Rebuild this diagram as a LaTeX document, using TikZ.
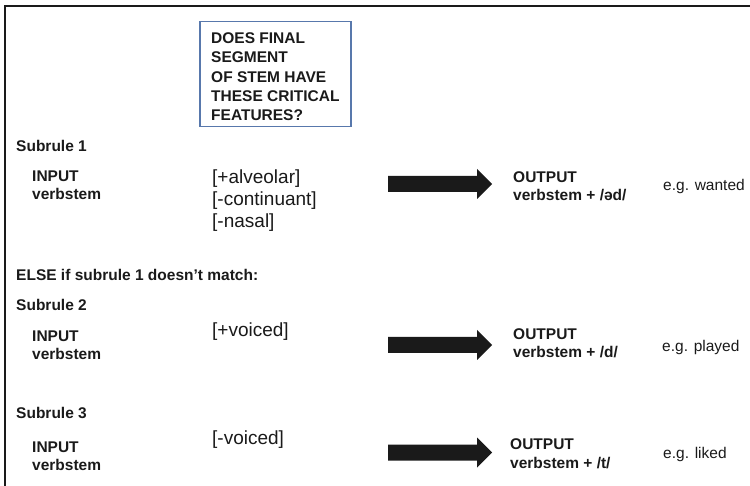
\documentclass[tikz,border=0pt]{standalone}
\usepackage{fontspec}
\setmainfont{Liberation Sans}
\usepackage{xcolor}
\definecolor{boxblue}{RGB}{88,120,172}
\definecolor{ink}{RGB}{26,26,26}

\begin{document}
\begin{tikzpicture}[x=1pt,y=-1pt,
  lbl/.style={anchor=base west,inner sep=0pt,font=\fontsize{15.5}{19.35}\selectfont\bfseries,text=ink},
  feat/.style={anchor=base west,inner sep=0pt,font=\fontsize{19}{22}\selectfont,text=ink},
  eg/.style={anchor=base west,inner sep=0pt,font=\fontsize{15.5}{19}\selectfont,text=ink},
  arr/.style={fill=ink}]
  \useasboundingbox (0,0) rectangle (750,486);
  % frame (top and left only)
  \draw[ink,line width=2.5pt] (5,486) -- (5,6) -- (750,6);
  % question box
  \node[draw=boxblue,line width=1.5pt,anchor=north west,minimum width=151pt,minimum height=105pt,inner sep=0pt] (qbox) at (199,21) {};
  \node[lbl,anchor=north west,align=left] (qtext) at (211,32.3) {DOES FINAL\\SEGMENT\\OF STEM HAVE\\THESE CRITICAL\\FEATURES?};
  % subrule 1
  \node[lbl] (s1) at (16,151.5) {Subrule 1};
  \node[lbl] (in1) at (32,181.5) {INPUT};
  \node[lbl] (vs1) at (32,200) {verbstem};
  \node[feat] (f1a) at (212,183.4) {[+alveolar]};
  \node[feat] (f1b) at (212,205.4) {[-continuant]};
  \node[feat] (f1c) at (212,227.4) {[-nasal]};
  \node[lbl] (out1) at (513,182.3) {OUTPUT};
  \node[lbl] (res1) at (513,200.5) {verbstem + /əd/};
  \node[eg] (eg1) at (663,191) {e.g. wanted};
  % else
  \node[lbl] (els) at (16,280.7) {ELSE if subrule 1 doesn’t match:};
  % subrule 2
  \node[lbl] (s2) at (16,310.7) {Subrule 2};
  \node[lbl] (in2) at (32,341.3) {INPUT};
  \node[lbl] (vs2) at (32,359.7) {verbstem};
  \node[feat] (f2) at (212,336.9) {[+voiced]};
  \node[lbl] (out2) at (513,339.7) {OUTPUT};
  \node[lbl] (res2) at (513,358) {verbstem + /d/};
  \node[eg] (eg2) at (662,351.4) {e.g. played};
  % subrule 3
  \node[lbl] (s3) at (16,418) {Subrule 3};
  \node[lbl] (in3) at (32,452.3) {INPUT};
  \node[lbl] (vs3) at (32,470.7) {verbstem};
  \node[feat] (f3) at (212,444) {[-voiced]};
  \node[lbl] (out3) at (510,449.7) {OUTPUT};
  \node[lbl] (res3) at (510,468) {verbstem + /t/};
  \node[eg] (eg3) at (663,458) {e.g. liked};
  % block arrows
  \foreach \y in {184,345,452.5}
    \fill[arr] (388,\y-8) -- (477,\y-8) -- (477,\y-15) -- (492,\y)
      -- (477,\y+15) -- (477,\y+8) -- (388,\y+8) -- cycle;
\end{tikzpicture}
\end{document}
